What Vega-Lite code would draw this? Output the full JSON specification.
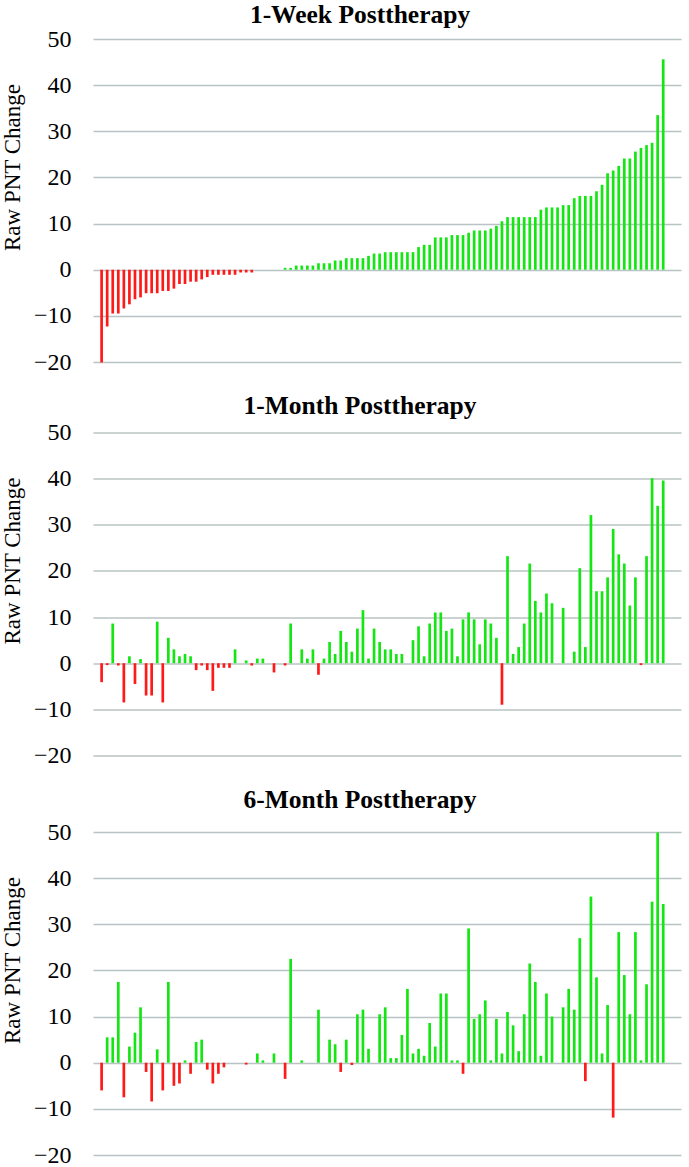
{
  "$schema": "https://vega.github.io/schema/vega-lite/v6.json",
  "background": "white",
  "padding": {"left": 1, "top": 2, "right": 4, "bottom": 0},
  "spacing": 19.5,
  "config": {
    "font": "Liberation Serif",
    "view": {"stroke": null},
    "axisY": {
      "grid": true,
      "gridColor": "#b9c3c3",
      "gridWidth": 1.5,
      "domain": false,
      "ticks": false,
      "labelFont": "Liberation Serif",
      "labelFontSize": 24,
      "labelColor": "#000000",
      "labelPadding": 22,
      "titleFont": "Liberation Serif",
      "titleFontSize": 23,
      "titleFontWeight": "normal",
      "titleColor": "#000000",
      "titlePadding": 9,
      "titleY": 128,
      "values": [-20, -10, 0, 10, 20, 30, 40, 50]
    },
    "title": {"font": "Liberation Serif", "fontSize": 25.5, "fontWeight": "bold", "color": "#000000", "dx": -27}
  },
  "datasets": {
    "week1": [
      {"i": 1, "v": -20.1}, {"i": 2, "v": -12.3}, {"i": 3, "v": -9.5}, {"i": 4, "v": -9.5}, {"i": 5, "v": -8.4},
      {"i": 6, "v": -7.5}, {"i": 7, "v": -6.4}, {"i": 8, "v": -6.0}, {"i": 9, "v": -5.1}, {"i": 10, "v": -5.1},
      {"i": 11, "v": -5.1}, {"i": 12, "v": -4.6}, {"i": 13, "v": -4.6}, {"i": 14, "v": -4.1}, {"i": 15, "v": -3.1},
      {"i": 16, "v": -3.1}, {"i": 17, "v": -2.6}, {"i": 18, "v": -2.6}, {"i": 19, "v": -2.1}, {"i": 20, "v": -1.6},
      {"i": 21, "v": -1.1}, {"i": 22, "v": -1.1}, {"i": 23, "v": -1.1}, {"i": 24, "v": -1.1}, {"i": 25, "v": -1.1},
      {"i": 26, "v": -0.6}, {"i": 27, "v": -0.6}, {"i": 28, "v": -0.6},
      {"i": 29, "v": 0}, {"i": 30, "v": 0}, {"i": 31, "v": 0}, {"i": 32, "v": 0}, {"i": 33, "v": 0},
      {"i": 34, "v": 0.4}, {"i": 35, "v": 0.4}, {"i": 36, "v": 0.9}, {"i": 37, "v": 0.9}, {"i": 38, "v": 0.9},
      {"i": 39, "v": 0.9}, {"i": 40, "v": 1.4}, {"i": 41, "v": 1.4}, {"i": 42, "v": 1.4}, {"i": 43, "v": 2.0},
      {"i": 44, "v": 2.0}, {"i": 45, "v": 2.5}, {"i": 46, "v": 2.5}, {"i": 47, "v": 2.5}, {"i": 48, "v": 2.5},
      {"i": 49, "v": 3.0}, {"i": 50, "v": 3.5}, {"i": 51, "v": 3.5}, {"i": 52, "v": 3.8}, {"i": 53, "v": 3.8},
      {"i": 54, "v": 3.8}, {"i": 55, "v": 3.8}, {"i": 56, "v": 3.8}, {"i": 57, "v": 3.8}, {"i": 58, "v": 4.9},
      {"i": 59, "v": 5.4}, {"i": 60, "v": 5.4}, {"i": 61, "v": 7.0}, {"i": 62, "v": 7.0}, {"i": 63, "v": 7.0},
      {"i": 64, "v": 7.5}, {"i": 65, "v": 7.5}, {"i": 66, "v": 7.5}, {"i": 67, "v": 8.0}, {"i": 68, "v": 8.5},
      {"i": 69, "v": 8.5}, {"i": 70, "v": 8.5}, {"i": 71, "v": 8.9}, {"i": 72, "v": 9.5}, {"i": 73, "v": 10.5},
      {"i": 74, "v": 11.4}, {"i": 75, "v": 11.4}, {"i": 76, "v": 11.4}, {"i": 77, "v": 11.4}, {"i": 78, "v": 11.4},
      {"i": 79, "v": 11.4}, {"i": 80, "v": 13.0}, {"i": 81, "v": 13.5}, {"i": 82, "v": 13.5}, {"i": 83, "v": 13.5},
      {"i": 84, "v": 14.0}, {"i": 85, "v": 14.0}, {"i": 86, "v": 15.5}, {"i": 87, "v": 16.0}, {"i": 88, "v": 16.0},
      {"i": 89, "v": 16.0}, {"i": 90, "v": 17.0}, {"i": 91, "v": 18.4}, {"i": 92, "v": 20.9}, {"i": 93, "v": 21.5},
      {"i": 94, "v": 22.5}, {"i": 95, "v": 24.1}, {"i": 96, "v": 24.1}, {"i": 97, "v": 25.6}, {"i": 98, "v": 26.4},
      {"i": 99, "v": 27.0}, {"i": 100, "v": 27.5}, {"i": 101, "v": 33.5}, {"i": 102, "v": 45.6}
    ],
    "month1": [
      {"i": 1, "v": -4.1}, {"i": 2, "v": -0.4}, {"i": 3, "v": 8.6}, {"i": 4, "v": -0.5}, {"i": 5, "v": -8.5},
      {"i": 6, "v": 1.5}, {"i": 7, "v": -4.5}, {"i": 8, "v": 0.9}, {"i": 9, "v": -7.0}, {"i": 10, "v": -7.0},
      {"i": 11, "v": 9.0}, {"i": 12, "v": -8.5}, {"i": 13, "v": 5.5}, {"i": 14, "v": 3.0}, {"i": 15, "v": 1.5},
      {"i": 16, "v": 2.0}, {"i": 17, "v": 1.5}, {"i": 18, "v": -1.5}, {"i": 19, "v": -0.5}, {"i": 20, "v": -1.5},
      {"i": 21, "v": -6.0}, {"i": 22, "v": -1.0}, {"i": 23, "v": -1.0}, {"i": 24, "v": -1.0}, {"i": 25, "v": 3.0},
      {"i": 27, "v": 0.6}, {"i": 28, "v": -0.5}, {"i": 29, "v": 1.0}, {"i": 30, "v": 1.0}, {"i": 32, "v": -2.0},
      {"i": 34, "v": -0.5}, {"i": 35, "v": 8.6}, {"i": 37, "v": 3.0}, {"i": 38, "v": 1.0}, {"i": 39, "v": 3.0},
      {"i": 40, "v": -2.5}, {"i": 41, "v": 1.0}, {"i": 42, "v": 4.6}, {"i": 43, "v": 2.0}, {"i": 44, "v": 7.0},
      {"i": 45, "v": 4.6}, {"i": 46, "v": 2.5}, {"i": 47, "v": 7.5}, {"i": 48, "v": 11.5}, {"i": 49, "v": 1.0},
      {"i": 50, "v": 7.5}, {"i": 51, "v": 4.6}, {"i": 52, "v": 3.0}, {"i": 53, "v": 3.0}, {"i": 54, "v": 2.0},
      {"i": 55, "v": 2.0}, {"i": 57, "v": 5.0}, {"i": 58, "v": 8.0}, {"i": 59, "v": 1.5}, {"i": 60, "v": 8.6},
      {"i": 61, "v": 11.0}, {"i": 62, "v": 11.0}, {"i": 63, "v": 7.0}, {"i": 64, "v": 7.5}, {"i": 65, "v": 1.5},
      {"i": 66, "v": 9.5}, {"i": 67, "v": 11.0}, {"i": 68, "v": 9.5}, {"i": 69, "v": 4.1}, {"i": 70, "v": 9.5},
      {"i": 71, "v": 8.6}, {"i": 72, "v": 5.5}, {"i": 73, "v": -9.0}, {"i": 74, "v": 23.2}, {"i": 75, "v": 2.0},
      {"i": 76, "v": 3.5}, {"i": 77, "v": 8.6}, {"i": 78, "v": 21.6}, {"i": 79, "v": 13.5}, {"i": 80, "v": 11.0},
      {"i": 81, "v": 15.1}, {"i": 82, "v": 13.0}, {"i": 84, "v": 12.0}, {"i": 86, "v": 2.5}, {"i": 87, "v": 20.6},
      {"i": 88, "v": 3.5}, {"i": 89, "v": 32.1}, {"i": 90, "v": 15.6}, {"i": 91, "v": 15.6}, {"i": 92, "v": 18.6},
      {"i": 93, "v": 29.1}, {"i": 94, "v": 23.6}, {"i": 95, "v": 21.6}, {"i": 96, "v": 12.5}, {"i": 97, "v": 18.6},
      {"i": 98, "v": -0.4}, {"i": 99, "v": 23.2}, {"i": 100, "v": 40.1}, {"i": 101, "v": 34.1}, {"i": 102, "v": 39.6}
    ],
    "month6": [
      {"i": 1, "v": -6.0}, {"i": 2, "v": 5.5}, {"i": 3, "v": 5.5}, {"i": 4, "v": 17.5}, {"i": 5, "v": -7.5},
      {"i": 6, "v": 3.5}, {"i": 7, "v": 6.5}, {"i": 8, "v": 12.0}, {"i": 9, "v": -2.0}, {"i": 10, "v": -8.4},
      {"i": 11, "v": 2.9}, {"i": 12, "v": -6.0}, {"i": 13, "v": 17.5}, {"i": 14, "v": -5.0}, {"i": 15, "v": -4.5},
      {"i": 16, "v": 0.5}, {"i": 17, "v": -2.4}, {"i": 18, "v": 4.5}, {"i": 19, "v": 5.0}, {"i": 20, "v": -1.5},
      {"i": 21, "v": -4.5}, {"i": 22, "v": -2.4}, {"i": 23, "v": -1.0}, {"i": 27, "v": -0.4}, {"i": 29, "v": 2.0},
      {"i": 30, "v": 0.5}, {"i": 32, "v": 2.0}, {"i": 34, "v": -3.5}, {"i": 35, "v": 22.5}, {"i": 37, "v": 0.5},
      {"i": 40, "v": 11.5}, {"i": 42, "v": 5.0}, {"i": 43, "v": 4.0}, {"i": 44, "v": -2.0}, {"i": 45, "v": 5.0},
      {"i": 46, "v": -0.5}, {"i": 47, "v": 10.5}, {"i": 48, "v": 11.5}, {"i": 49, "v": 3.0}, {"i": 51, "v": 10.5},
      {"i": 52, "v": 12.0}, {"i": 53, "v": 1.0}, {"i": 54, "v": 1.0}, {"i": 55, "v": 6.0}, {"i": 56, "v": 16.0},
      {"i": 57, "v": 2.0}, {"i": 58, "v": 3.0}, {"i": 59, "v": 1.5}, {"i": 60, "v": 8.6}, {"i": 61, "v": 3.5},
      {"i": 62, "v": 15.0}, {"i": 63, "v": 15.0}, {"i": 64, "v": 0.5}, {"i": 65, "v": 0.5}, {"i": 66, "v": -2.4},
      {"i": 67, "v": 29.1}, {"i": 68, "v": 9.5}, {"i": 69, "v": 10.5}, {"i": 70, "v": 13.5}, {"i": 71, "v": 0.5},
      {"i": 72, "v": 9.5}, {"i": 73, "v": 2.0}, {"i": 74, "v": 11.0}, {"i": 75, "v": 8.1}, {"i": 76, "v": 2.5},
      {"i": 77, "v": 10.5}, {"i": 78, "v": 21.5}, {"i": 79, "v": 17.5}, {"i": 80, "v": 1.5}, {"i": 81, "v": 15.0},
      {"i": 82, "v": 10.0}, {"i": 84, "v": 12.0}, {"i": 85, "v": 16.0}, {"i": 86, "v": 11.5}, {"i": 87, "v": 27.0},
      {"i": 88, "v": -4.0}, {"i": 89, "v": 36.0}, {"i": 90, "v": 18.5}, {"i": 91, "v": 2.0}, {"i": 92, "v": 12.5},
      {"i": 93, "v": -11.9}, {"i": 94, "v": 28.3}, {"i": 95, "v": 19.0}, {"i": 96, "v": 10.5}, {"i": 97, "v": 28.3},
      {"i": 98, "v": 0.5}, {"i": 99, "v": 17.0}, {"i": 100, "v": 34.9}, {"i": 101, "v": 49.9}, {"i": 102, "v": 34.4}
    ]
  },
  "vconcat": [
    {
      "title": {"text": "1-Week Posttherapy", "offset": -1.3},
      "width": 588, "height": 323,
      "data": {"name": "week1"},
      "mark": {"type": "bar", "width": 2.7},
      "encoding": {
        "x": {"field": "i", "type": "quantitative", "scale": {"domain": [0.35, 104.3], "nice": false}, "axis": null},
        "y": {"field": "v", "type": "quantitative", "scale": {"domain": [-20, 50], "nice": false}, "axis": {"title": "Raw PNT Change"}},
        "color": {"condition": {"test": "datum.v < 0", "value": "#ff1a1a"}, "value": "#14e614"}
      }
    },
    {
      "title": {"text": "1-Month Posttherapy", "offset": 1.2},
      "width": 588, "height": 323,
      "data": {"name": "month1"},
      "mark": {"type": "bar", "width": 2.7},
      "encoding": {
        "x": {"field": "i", "type": "quantitative", "scale": {"domain": [0.35, 104.3], "nice": false}, "axis": null},
        "y": {"field": "v", "type": "quantitative", "scale": {"domain": [-20, 50], "nice": false}, "axis": {"title": "Raw PNT Change"}},
        "color": {"condition": {"test": "datum.v < 0", "value": "#ff1a1a"}, "value": "#14e614"}
      }
    },
    {
      "title": {"text": "6-Month Posttherapy", "offset": 7},
      "width": 588, "height": 323,
      "data": {"name": "month6"},
      "mark": {"type": "bar", "width": 2.7},
      "encoding": {
        "x": {"field": "i", "type": "quantitative", "scale": {"domain": [0.35, 104.3], "nice": false}, "axis": null},
        "y": {"field": "v", "type": "quantitative", "scale": {"domain": [-20, 50], "nice": false}, "axis": {"title": "Raw PNT Change"}},
        "color": {"condition": {"test": "datum.v < 0", "value": "#ff1a1a"}, "value": "#14e614"}
      }
    }
  ]
}
